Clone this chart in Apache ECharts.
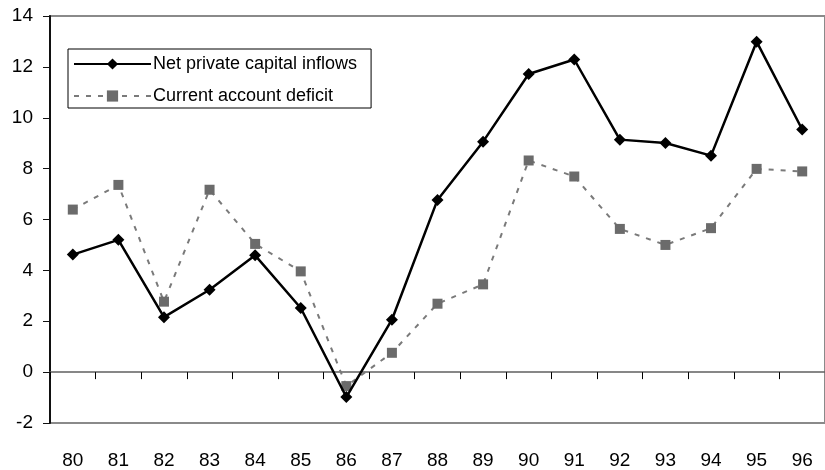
<!DOCTYPE html>
<html>
<head>
<meta charset="utf-8">
<script src="https://cdn.jsdelivr.net/npm/echarts@6/dist/echarts.min.js"></script>
<style>
  html, body { margin: 0; padding: 0; background: #fff; }
  #chart { width: 825px; height: 470px; }
</style>
</head>
<body>
<div id="chart"></div>
<script>
// Years (two-digit labels)
const years = ['80','81','82','83','84','85','86','87','88','89','90','91','92','93','94','95','96'];

// Net private capital inflows
const netInflows = [4.62, 5.20, 2.16, 3.24, 4.59, 2.52, -0.98, 2.06, 6.77, 9.06, 11.72, 12.29, 9.14, 9.01, 8.51, 12.99, 9.54];

// Current account deficit
const currentDeficit = [6.39, 7.36, 2.77, 7.17, 5.04, 3.96, -0.55, 0.76, 2.69, 3.45, 8.32, 7.69, 5.63, 5.00, 5.66, 7.99, 7.89];

// Value axis range
const yMin = -2, yMax = 14, yStep = 2;

const font = 'Arial, "Liberation Sans", sans-serif';

const chart = echarts.init(document.getElementById('chart'), null, { renderer: 'canvas' });

chart.setOption({
  animation: false,
  backgroundColor: '#ffffff',
  grid: {
    left: 50,
    right: -4,
    top: 16,
    bottom: 47,
    show: true,
    borderColor: '#8a8a8a',
    borderWidth: 2,
    backgroundColor: 'transparent'
  },
  legend: {
    orient: 'vertical',
    left: 68,
    top: 49,
    padding: [6, 14, 3, 5],
    itemGap: 14,
    itemWidth: 77,
    itemHeight: 14,
    borderColor: '#000',
    borderWidth: 1,
    backgroundColor: '#fff',
    textStyle: { fontFamily: font, fontSize: 18, color: '#000', padding: [0, 0, 0, -3] },
    data: ['Net private capital inflows', 'Current account deficit']
  },
  xAxis: [
    {
      // bottom axis: year labels only
      type: 'category',
      data: years,
      position: 'bottom',
      boundaryGap: true,
      axisLine: { show: false, onZero: false },
      axisTick: { show: false },
      splitLine: { show: false },
      axisLabel: { fontFamily: font, fontSize: 19, color: '#000', margin: 28 }
    },
    {
      // zero line with tick marks between categories
      type: 'category',
      data: years,
      position: 'top',
      boundaryGap: true,
      axisLine: { show: true, onZero: true, lineStyle: { color: '#606060', width: 1.5 } },
      axisTick: { show: true, inside: true, length: 7, lineStyle: { color: '#000', width: 1 } },
      axisLabel: { show: false },
      splitLine: { show: false }
    }
  ],
  yAxis: {
    type: 'value',
    min: yMin,
    max: yMax,
    interval: yStep,
    axisLine: { show: true, lineStyle: { color: '#111', width: 2 } },
    axisTick: { show: true, length: 7, lineStyle: { color: '#111', width: 1 } },
    splitLine: { show: false },
    axisLabel: { fontFamily: font, fontSize: 19, color: '#000', margin: 17 }
  },
  series: [
    {
      name: 'Net private capital inflows',
      type: 'line',
      xAxisIndex: 0,
      data: netInflows,
      symbol: 'diamond',
      symbolSize: 12,
      showAllSymbol: true,
      itemStyle: { color: '#000' },
      lineStyle: { color: '#000', width: 2.5 },
      z: 3
    },
    {
      name: 'Current account deficit',
      type: 'line',
      xAxisIndex: 0,
      data: currentDeficit,
      symbol: 'rect',
      symbolSize: 10,
      showAllSymbol: true,
      itemStyle: { color: '#6b6b6b' },
      lineStyle: { color: '#7a7a7a', width: 2, type: [5, 7] },
      z: 2
    }
  ]
});
</script>
</body>
</html>
